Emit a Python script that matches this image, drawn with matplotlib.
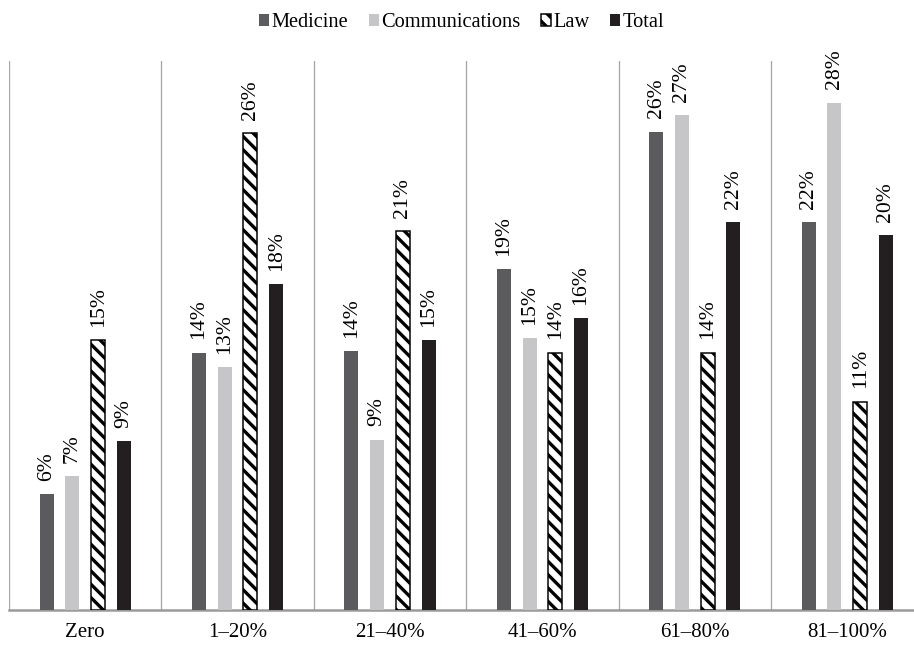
import matplotlib
matplotlib.use("Agg")
import matplotlib.pyplot as plt
import numpy as np

# ranges of share, one group each
categories = ["Zero", "1\u201320%", "21\u201340%", "41\u201360%", "61\u201380%", "81\u2013100%"]
series = ["Medicine", "Communications", "Law", "Total"]

# bar heights (percent)
medicine = [6.4, 14.2, 14.3, 18.8, 26.4, 21.4]
communications = [7.4, 13.4, 9.4, 15.0, 27.3, 28.0]
law = [14.9, 26.3, 20.9, 14.2, 14.2, 11.5]
total = [9.3, 18.0, 14.9, 16.1, 21.4, 20.7]

# printed labels
medicine_lbl = ["6%", "14%", "14%", "19%", "26%", "22%"]
communications_lbl = ["7%", "13%", "9%", "15%", "27%", "28%"]
law_lbl = ["15%", "26%", "21%", "14%", "14%", "11%"]
total_lbl = ["9%", "18%", "15%", "16%", "22%", "20%"]

plt.rcParams["font.family"] = ["Liberation Serif", "DejaVu Serif"]
plt.rcParams["hatch.linewidth"] = 2.0
plt.rcParams["hatch.color"] = "black"

fig = plt.figure(figsize=(914 / 120, 645 / 120), dpi=120)
ax = fig.add_axes([9 / 914, 1 - 610 / 645, 914.4 / 914, 549 / 645])

x = np.arange(len(categories))
step = 0.169
width = 0.092
styles = [
    dict(color="#5b5b5d"),
    dict(color="#c6c6c8"),
    dict(facecolor="white", edgecolor="black", hatch="\\\\\\", linewidth=0.9),
    dict(color="#231f20"),
]
values = [medicine, communications, law, total]
labels = [medicine_lbl, communications_lbl, law_lbl, total_lbl]

for i, (name, vals, lbls, st) in enumerate(zip(series, values, labels, styles)):
    bars = ax.bar(x + (i - 1.5) * step, vals, width, label=name, zorder=3, **st)
    ax.bar_label(bars, labels=lbls, padding=8, rotation=90, fontsize=13)

# separators between groups
for k in range(len(categories)):
    ax.axvline(k - 0.5, color="#a8a8a8", linewidth=0.8, zorder=1)

ax.set_xlim(-0.5, len(categories) - 0.5)
ax.set_ylim(0, 30.3)
ax.set_xticks(x)
ax.set_xticklabels(categories, fontsize=12.5)
ax.tick_params(axis="x", length=0, pad=8)
ax.set_yticks([])
for s in ["top", "right", "left"]:
    ax.spines[s].set_visible(False)
ax.spines["bottom"].set_color("#9a9a9a")
ax.spines["bottom"].set_linewidth(1.5)

fig.legend(loc="upper center", bbox_to_anchor=(0.505, 1.005), ncol=4, frameon=False,
           fontsize=12.2, handlelength=0.5, handleheight=0.5, handletextpad=0.12,
           columnspacing=1.0, borderpad=0.3)

fig.savefig("out.png", dpi=120)
